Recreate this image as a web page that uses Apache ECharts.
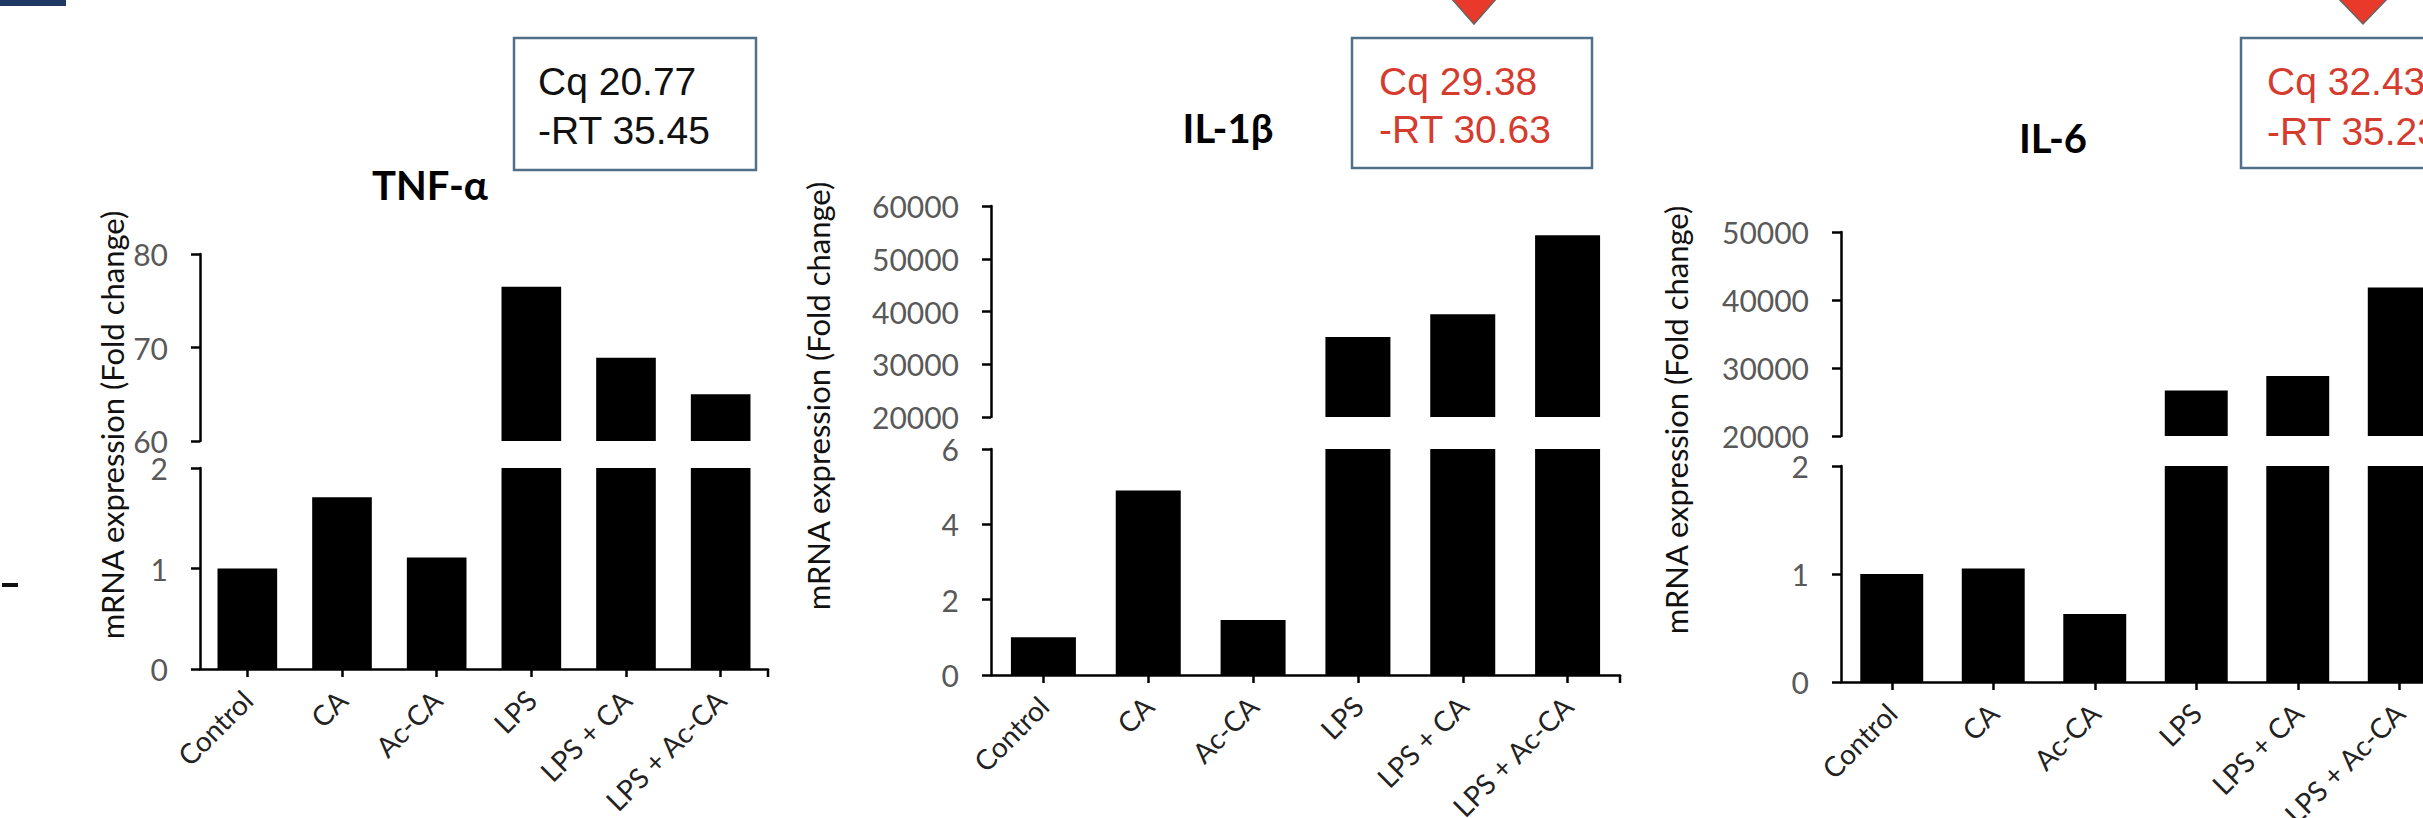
<!DOCTYPE html>
<html>
<head>
<meta charset="utf-8">
<title>mRNA expression</title>
<script src="https://cdn.jsdelivr.net/npm/echarts@6/dist/echarts.min.js"></script>
<style>
  html, body { margin: 0; padding: 0; background: #fff; }
  #chart { width: 2423px; height: 818px; }
</style>
</head>
<body>
<div id="chart"></div>
<script>
const categories = ['Control', 'CA', 'Ac-CA', 'LPS', 'LPS + CA', 'LPS + Ac-CA']
const genes = ['TNF-α', 'IL-1β', 'IL-6']
const tnfValues = [1.0, 1.71, 1.11, 76.5, 68.9, 65.0]
const il1bValues = [1.0, 4.9, 1.46, 35150, 39500, 54470]
const il6Values = [1.0, 1.05, 0.63, 26700, 28840, 41830]
// [min, max, interval] for the two parts of each broken y axis
const lowerRanges = [[0, 2, 1], [0, 6, 2], [0, 2, 1]]
const upperRanges = [[60, 80, 10], [20000, 60000, 10000], [20000, 50000, 10000]]
const cqNotes = [['Cq 20.77', '-RT 35.45'], ['Cq 29.38', '-RT 30.63'], ['Cq 32.43', '-RT 35.23']]
const yName = 'mRNA expression (Fold change)'

const seriesValues = [tnfValues, il1bValues, il6Values]

// layout of each panel (pixels)
const panels = [
  { left: 200, width: 568, upper: [254, 187], lower: [468, 201], bar: '63%',
    title: [430, 185], yName: [112, 425], box: [514, 38, 242, 132], noteX: 538, noteY: [81, 130], noteColor: '#111' },
  { left: 991, width: 629, upper: [206, 211], lower: [449, 226], bar: '62%',
    title: [1228, 128], yName: [818, 396], box: [1352, 38, 240, 130], noteX: 1379, noteY: [81, 129], noteColor: '#d63c2e' },
  { left: 1841, width: 609, upper: [232, 204], lower: [466, 216], bar: '62%',
    title: [2053, 138], yName: [1676, 420], box: [2241, 38, 240, 130], noteX: 2267, noteY: [81, 131], noteColor: '#d63c2e' }
]

const tickFont = { fontFamily: 'Lato', fontSize: 30, lineHeight: 22, color: '#595959' }
const axisLine = { show: true, lineStyle: { color: '#000', width: 2.5 } }
const axisTick = { show: true, length: 9, lineStyle: { color: '#000', width: 2.5 } }

const grid = []
const xAxis = []
const yAxis = []
const series = []
const graphic = [
  { type: 'rect', shape: { x: 0, y: 0, width: 66, height: 6 }, style: { fill: '#1f3864' } },
  { type: 'rect', shape: { x: 2, y: 583, width: 16, height: 4 }, style: { fill: '#111' } },
  { type: 'polygon', shape: { points: [[1451, -2], [1497, -2], [1474, 24]] },
    style: { fill: '#e8392a', stroke: '#666', lineWidth: 1.5 } },
  { type: 'polygon', shape: { points: [[2338, -2], [2388, -2], [2363, 24]] },
    style: { fill: '#e8392a', stroke: '#666', lineWidth: 1.5 } }
]

panels.forEach((p, i) => {
  const values = seriesValues[i]
  const lowerMax = lowerRanges[i][1]
  // upper grid first, then lower grid
  grid.push({ left: p.left, width: p.width, top: p.upper[0], height: p.upper[1], containLabel: false, outerBoundsMode: 'none' })
  grid.push({ left: p.left, width: p.width, top: p.lower[0], height: p.lower[1], containLabel: false, outerBoundsMode: 'none' })
  const gu = i * 2
  const gl = i * 2 + 1

  xAxis.push({ type: 'category', gridIndex: gu, data: categories, show: false })
  xAxis.push({
    type: 'category',
    gridIndex: gl,
    data: categories,
    axisLine: axisLine,
    axisTick: { show: true, alignWithLabel: true, length: 8, lineStyle: { color: '#000', width: 2.5 } },
    axisLabel: {
      interval: 0,
      rotate: 45,
      margin: 26,
      fontFamily: 'Lato',
      fontSize: 28,
      color: '#222'
    }
  })

  const [umin, umax, ustep] = upperRanges[i]
  const [lmin, lmax, lstep] = lowerRanges[i]
  yAxis.push({
    type: 'value', gridIndex: gu, min: umin, max: umax, interval: ustep,
    axisLine: axisLine, axisTick: axisTick, splitLine: { show: false },
    axisLabel: { ...tickFont, margin: 32, showMinLabel: true, showMaxLabel: true, formatter: v => String(v) }
  })
  yAxis.push({
    type: 'value', gridIndex: gl, min: lmin, max: lmax, interval: lstep,
    axisLine: axisLine, axisTick: axisTick, splitLine: { show: false },
    axisLabel: { ...tickFont, margin: 32, showMinLabel: true, showMaxLabel: true, formatter: v => String(v) }
  })

  series.push({
    name: genes[i] + ' upper',
    type: 'bar',
    xAxisIndex: gu,
    yAxisIndex: gu,
    barWidth: p.bar,
    clip: true,
    itemStyle: { color: '#000' },
    data: values.map(v => (v > lowerMax ? v : '-'))
  })
  series.push({
    name: genes[i],
    type: 'bar',
    xAxisIndex: gl,
    yAxisIndex: gl,
    barWidth: p.bar,
    clip: true,
    itemStyle: { color: '#000' },
    data: values
  })

  // closing tick at the right end of the category axis
  const axisY = p.lower[0] + p.lower[1]
  graphic.push({
    type: 'line', shape: { x1: p.left + p.width, y1: axisY, x2: p.left + p.width, y2: axisY + 8 },
    style: { stroke: '#000', lineWidth: 2.5 }
  })
  // title of the panel
  graphic.push({
    type: 'text', x: p.title[0], y: p.title[1],
    style: { text: genes[i], fontFamily: 'Lato', fontWeight: 'bold', fontSize: 40, fill: '#000',
      textAlign: 'center', textVerticalAlign: 'middle', verticalAlign: 'middle' }
  })
  // y axis name
  graphic.push({
    type: 'text', x: p.yName[0], y: p.yName[1], rotation: Math.PI / 2,
    style: { text: yName, fontFamily: 'Lato', fontSize: 31, fill: '#111',
      textAlign: 'center', textVerticalAlign: 'middle', verticalAlign: 'middle' }
  })
  // Cq box
  graphic.push({
    type: 'rect', shape: { x: p.box[0], y: p.box[1], width: p.box[2], height: p.box[3] },
    style: { fill: '#fff', stroke: '#50708a', lineWidth: 2.5 }
  })
  cqNotes[i].forEach((line, k) => {
    graphic.push({
      type: 'text', x: p.noteX, y: p.noteY[k],
      style: { text: line, fontFamily: 'Liberation Sans', fontSize: 39, fill: p.noteColor,
        textAlign: 'left', textVerticalAlign: 'middle', verticalAlign: 'middle' }
    })
  })
})

const chart = echarts.init(document.getElementById('chart'), null, { renderer: 'svg' })
chart.setOption({
  animation: false,
  backgroundColor: '#fff',
  grid: grid,
  xAxis: xAxis,
  yAxis: yAxis,
  series: series,
  graphic: graphic
})
</script>
</body>
</html>
